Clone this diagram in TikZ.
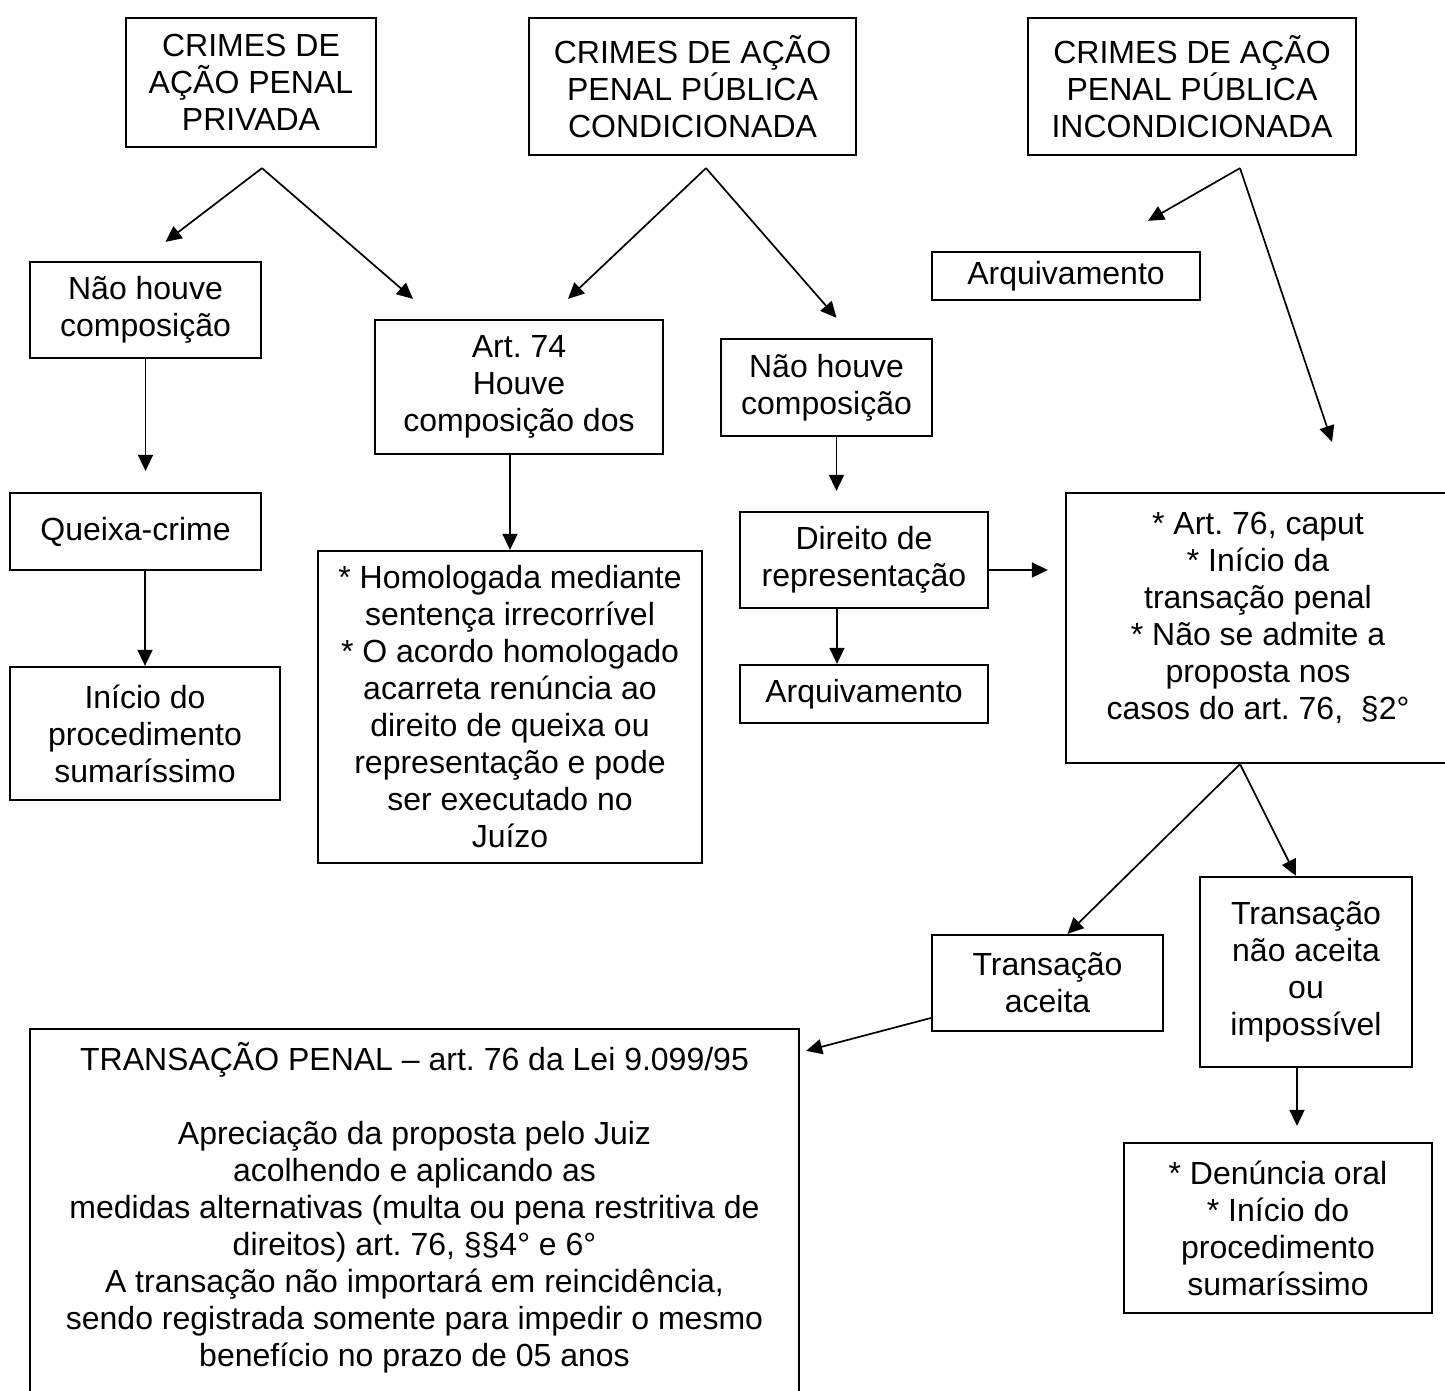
\documentclass[tikz,border=0pt]{standalone}
\usepackage{fontspec}
\setmainfont{Liberation Sans}
\usetikzlibrary{arrows.meta}
\frenchspacing

\begin{document}
\begin{tikzpicture}[x=1pt, y=-1pt, ->, >={Triangle[length=16pt,width=15pt]}, line width=1.7pt,
      every node/.append style={font=\fontsize{32}{37}\selectfont, align=center}]
    \tikzstyle{caixa} = [draw, inner sep=0pt, line width=2.3pt]
    \useasboundingbox (0,0) rectangle (1445,1390);
    \clip (0,0) rectangle (1445,1390);
    \node (privada) [caixa, minimum width=250pt, minimum height=129pt] at (251,82.5) {CRIMES DE\\AÇÃO PENAL\\PRIVADA};
    \node (condicionada) [caixa, minimum width=327pt, minimum height=137pt] at (692.5,86.5) {CRIMES DE AÇÃO\\PENAL PÚBLICA\\CONDICIONADA};
    \node (incondicionada) [caixa, minimum width=328pt, minimum height=137pt] at (1192,86.5) {CRIMES DE AÇÃO\\PENAL PÚBLICA\\INCONDICIONADA};
    \node (arquivamento) [caixa, minimum width=268pt, minimum height=48pt] at (1066,276) {Arquivamento};
    \node (naoHouve) [caixa, minimum width=231pt, minimum height=96pt] at (145.5,310) {Não houve\\composição};
    \node (art74) [caixa, minimum width=288pt, minimum height=134pt] at (519,387) {Art. 74\\Houve\\composição dos};
    \node (naoHouveCond) [caixa, minimum width=211pt, minimum height=97pt] at (826.5,387.5) {Não houve\\composição};
    \node (queixa) [caixa, minimum width=251pt, minimum height=77pt] at (135.5,531.5) {Queixa-crime};
    \node (inicio) [caixa, minimum width=270pt, minimum height=133pt] at (145,733.5) {Início do\\procedimento\\sumaríssimo};
    \node (homologada) [caixa, minimum width=384pt, minimum height=312pt] at (510,707) {* Homologada mediante\\sentença irrecorrível\\* O acordo homologado\\acarreta renúncia ao\\direito de queixa ou\\representação e pode\\ser executado no\\Juízo};
    \node (direito) [caixa, minimum width=248pt, minimum height=96pt] at (864,560) {Direito de\\representação};
    \node (arquivamentoCond) [caixa, minimum width=248pt, minimum height=58pt] at (864,694) {Arquivamento};
    \node (art76) [caixa, minimum width=384pt, minimum height=270pt] at (1258,628) {* Art. 76, caput\\* Início da\\transação penal\\* Não se admite a\\proposta nos\\casos do art. 76,\ \ §2°\\[-12pt]\mbox{}};
    \node (aceita) [caixa, minimum width=231pt, minimum height=96pt] at (1047.5,983) {Transação\\aceita};
    \node (naoAceita) [caixa, minimum width=212pt, minimum height=190pt] at (1306,972) {Transação\\não aceita\\ou\\impossível};
    \node (denuncia) [caixa, minimum width=308pt, minimum height=170pt] at (1278,1228) {* Denúncia oral\\* Início do\\procedimento\\sumaríssimo};
    \node (transacao) [caixa, minimum width=769pt, minimum height=388pt] at (414.5,1223) {TRANSAÇÃO PENAL – art. 76 da Lei 9.099/95\\[37pt]Apreciação da proposta pelo Juiz\\acolhendo e aplicando as\\medidas alternativas (multa ou pena restritiva de\\direitos) art. 76, §§4° e 6°\\A transação não importará em reincidência,\\sendo registrada somente para impedir o mesmo\\benefício no prazo de 05 anos\\ \mbox{}};
    \coordinate (privadaSplit) at ([xshift=11pt,yshift=-20pt]privada.south);
    \coordinate (condSplit) at ([xshift=13.5pt,yshift=-12pt]condicionada.south);
    \coordinate (incondSplit) at ([xshift=48pt,yshift=-12pt]incondicionada.south);
    \coordinate (art76Split) at ([xshift=-18pt]art76.south);
    \draw (privadaSplit) -- ([xshift=20pt,yshift=19pt]naoHouve.north);
    \draw (privadaSplit) -- ([xshift=-106pt,yshift=20pt]art74.north);
    \draw (condSplit) -- ([xshift=49pt,yshift=20pt]art74.north);
    \draw (condSplit) -- ([xshift=10pt,yshift=20pt]naoHouveCond.north);
    \draw (incondSplit) -- ([xshift=82pt,yshift=30pt]arquivamento.north);
    \draw (incondSplit) -- ([xshift=74pt,yshift=50pt]art76.north);
    \draw (naoHouve.south) -- ([yshift=21pt]naoHouve.south |- queixa.north);
    \draw (queixa.south -| inicio.north) -- (inicio.north);
    \draw (art74.south -| homologada.north) -- (homologada.north);
    \draw ([xshift=10pt]naoHouveCond.south) -- ([xshift=10pt,yshift=20pt]naoHouveCond.south |- direito.north);
    \draw ([yshift=-10pt]direito.east) -- ([xshift=-17pt,yshift=-10pt]art76.west |- direito.east);
    \draw ([xshift=-27pt]direito.south) -- ([xshift=-27pt]arquivamentoCond.north);
    \draw (art76Split) -- ([xshift=20pt]aceita.north);
    \draw (art76Split) -- ([xshift=-10pt]naoAceita.north);
    \draw ([xshift=-9pt]naoAceita.south) -- ([xshift=-9pt,yshift=16pt]naoAceita.south |- denuncia.north);
    \draw ([yshift=-35pt]aceita.west) -- ([xshift=6pt,yshift=-23pt]transacao.north east);
\end{tikzpicture}
\end{document}
